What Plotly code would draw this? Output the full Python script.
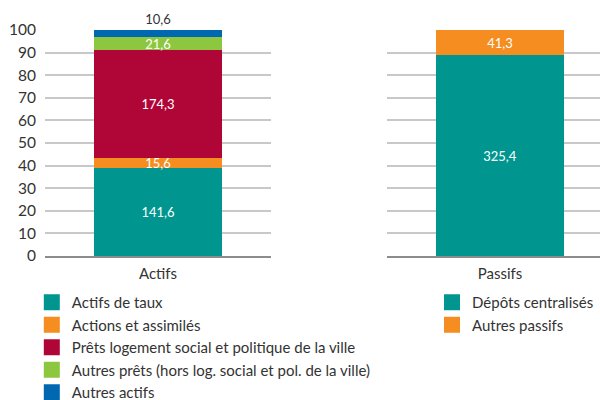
import plotly.graph_objects as go

# Répartition de l'actif et du passif (montants en Md€, barres normalisées à 100 %)
categories = ["Actifs", "Passifs"]

actifs_series = [
    "Actifs de taux",
    "Actions et assimilés",
    "Prêts logement social et politique de la ville",
    "Autres prêts (hors log. social et pol. de la ville)",
    "Autres actifs",
]
actifs_values = [141.6, 15.6, 174.3, 21.6, 10.6]
actifs_colors = ["#00968f", "#f58d20", "#b00637", "#8dc63f", "#0068b0"]

passifs_series = ["Dépôts centralisés", "Autres passifs"]
passifs_values = [325.4, 41.3]
passifs_colors = ["#00968f", "#f58d20"]

y_ticks = [0, 10, 20, 30, 40, 50, 60, 70, 80, 90, 100]

FONT = "Lato"
TEXT = "#333333"


def fr(v):
    return f"{v:.1f}".replace(".", ",")


fig = go.Figure()


def add_stack(cat, names, values, colors, xaxis, yaxis, legend):
    total = sum(values)
    for i, (name, val, col) in enumerate(zip(names, values, colors)):
        top = i == len(values) - 1
        small = val / total < 0.035
        fig.add_trace(go.Bar(
            x=[cat], y=[val / total * 100], name=name,
            marker=dict(color=col, line=dict(width=0)),
            text=[fr(val)],
            textposition="outside" if (top and small) else "inside",
            insidetextanchor="middle", textangle=0,
            textfont=dict(family=FONT, size=13,
                          color=TEXT if (top and small) else "white"),
            cliponaxis=False, showlegend=False, hoverinfo="skip",
            xaxis=xaxis, yaxis=yaxis, width=0.566,
        ))
        # legend swatch
        fig.add_trace(go.Scatter(
            x=[cat], y=[None], mode="markers", name=name,
            marker=dict(symbol="square", size=16, color=col),
            legend=legend, legendgroup=name, hoverinfo="skip",
            xaxis=xaxis, yaxis=yaxis,
        ))


add_stack(categories[0], actifs_series, actifs_values, actifs_colors, "x", "y", "legend")
add_stack(categories[1], passifs_series, passifs_values, passifs_colors, "x2", "y2", "legend2")

grid = dict(showgrid=True, gridcolor="#c8c8c8", gridwidth=1.5,
            range=[0, 100], tickvals=y_ticks, zeroline=False, fixedrange=True)
xbase = dict(type="category", showline=True, linecolor="rgba(0,0,0,0.45)", linewidth=2,
             showgrid=False, ticks="", ticklabelstandoff=3,
             tickfont=dict(family=FONT, size=15, color=TEXT))

legend_style = dict(font=dict(family=FONT, size=15, color=TEXT),
                    bgcolor="rgba(0,0,0,0)", tracegroupgap=0,
                    itemclick=False, itemdoubleclick=False,
                    xref="container", yref="container",
                    xanchor="left", yanchor="top")

fig.update_layout(
    width=600, height=400,
    margin=dict(l=45, r=0, t=30, b=144, autoexpand=False),
    paper_bgcolor="white", plot_bgcolor="white",
    barmode="stack", bargap=0,
    font=dict(family=FONT, color=TEXT),
    uniformtext=dict(mode="show", minsize=13),
    xaxis=dict(domain=[0, 0.4072], range=[-0.5, 0.5], **xbase),
    xaxis2=dict(domain=[0.6162, 1.0], range=[-0.5, 0.4425], anchor="y2", **xbase),
    yaxis=dict(anchor="x", tickfont=dict(family=FONT, size=15.5, color=TEXT),
               ticklabelstandoff=8, **grid),
    yaxis2=dict(anchor="x2", showticklabels=False, **grid),
    legend=dict(x=0.053, y=0.285, **legend_style),
    legend2=dict(x=0.72, y=0.285, **legend_style),
)

fig.write_html("out.html")
